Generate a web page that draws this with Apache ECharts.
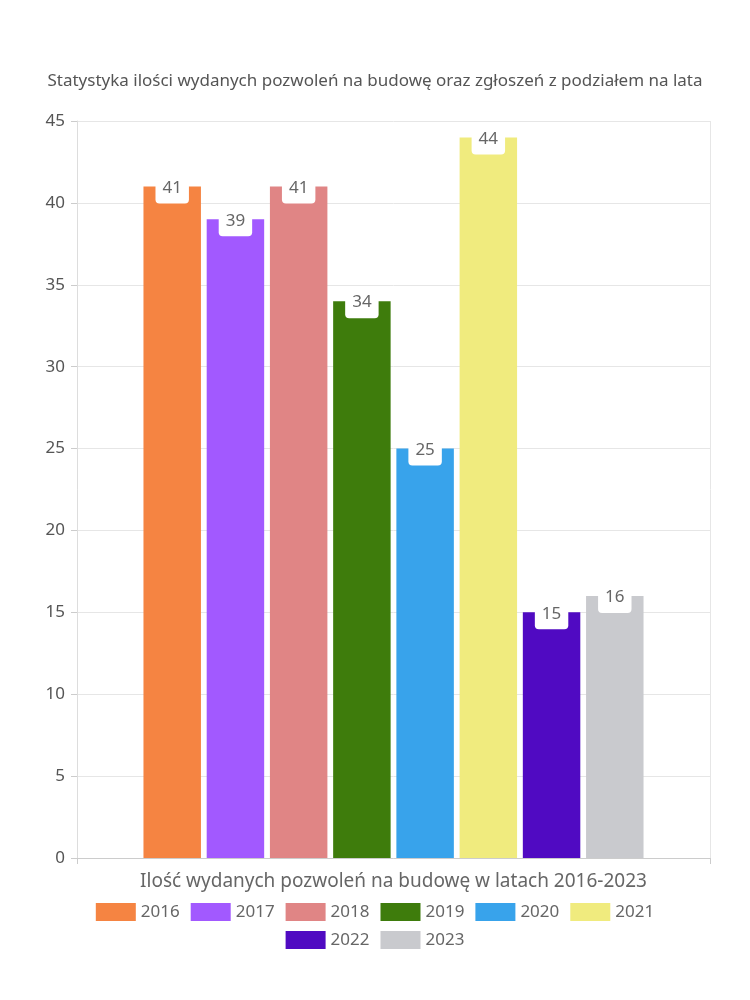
<!DOCTYPE html>
<html><head><meta charset="utf-8">
<script src="https://cdn.jsdelivr.net/npm/echarts@6/dist/echarts.min.js"></script>
<style>html,body{margin:0;padding:0;background:#fff}#c{width:750px;height:1000px}</style>
</head><body><div id="c"></div>
<script>
const years = ['2016','2017','2018','2019','2020','2021','2022','2023'];
const values = [41, 39, 41, 34, 25, 44, 15, 16];
const colors = ['#F58442','#A259FF','#E08585','#3E7C0C','#38A3EB','#F0EB7E','#500AC2','#C9CACE'];
const category = ['Ilość wydanych pozwoleń na budowę w latach 2016-2023'];
const titleText = 'Statystyka ilości wydanych pozwoleń na budowę oraz zgłoszeń z podziałem na lata';
const FONT = 'Noto Sans';
const chart = echarts.init(document.getElementById('c'));
const legendBase = {left: 'center', itemWidth: 40, itemHeight: 18, itemGap: 11, icon: 'rect',
  textStyle: {fontFamily: FONT, fontSize: 17, color: '#666'}};
chart.setOption({
  animation: false,
  textStyle: {fontFamily: FONT},
  title: {text: titleText, left: 'center', top: 68, textStyle: {fontFamily: FONT, fontSize: 17, fontWeight: 'normal', color: '#555'}},
  grid: {left: 77, right: 40, top: 121, bottom: 142},
  legend: [
    Object.assign({}, legendBase, {top: 898, data: years.slice(0, 6)}),
    Object.assign({}, legendBase, {top: 926, data: years.slice(6)})
  ],
  xAxis: {type: 'category', data: [''],
    name: category[0], nameLocation: 'middle', nameGap: 14,
    nameTextStyle: {fontFamily: FONT, fontSize: 19, color: '#666'},
    axisLine: {lineStyle: {color: '#ccc'}}, axisTick: {show: true, length: 6, lineStyle: {color: '#ccc'}},
    axisLabel: {show: false},
    splitLine: {show: true, lineStyle: {color: '#e6e6e6'}}},
  yAxis: {type: 'value', min: 0, max: 45, interval: 5,
    axisLine: {show: true, lineStyle: {color: '#ddd'}},
    axisTick: {show: true, length: 6, lineStyle: {color: '#ccc'}},
    axisLabel: {fontFamily: FONT, fontSize: 17, color: '#555', margin: 12},
    splitLine: {lineStyle: {color: '#e6e6e6'}}},
  series: years.map((y, i) => ({
    name: y, type: 'bar', data: [values[i]],
    barGap: '10%', barCategoryGap: '21%',
    itemStyle: {color: colors[i]},
    label: {show: true, position: 'insideTop', distance: 0, offset: [0, -14],
      backgroundColor: '#fff', borderRadius: 4, padding: [7, 7],
      fontFamily: FONT, fontSize: 17, lineHeight: 17, color: '#666'}
  }))
});
</script></body></html>
